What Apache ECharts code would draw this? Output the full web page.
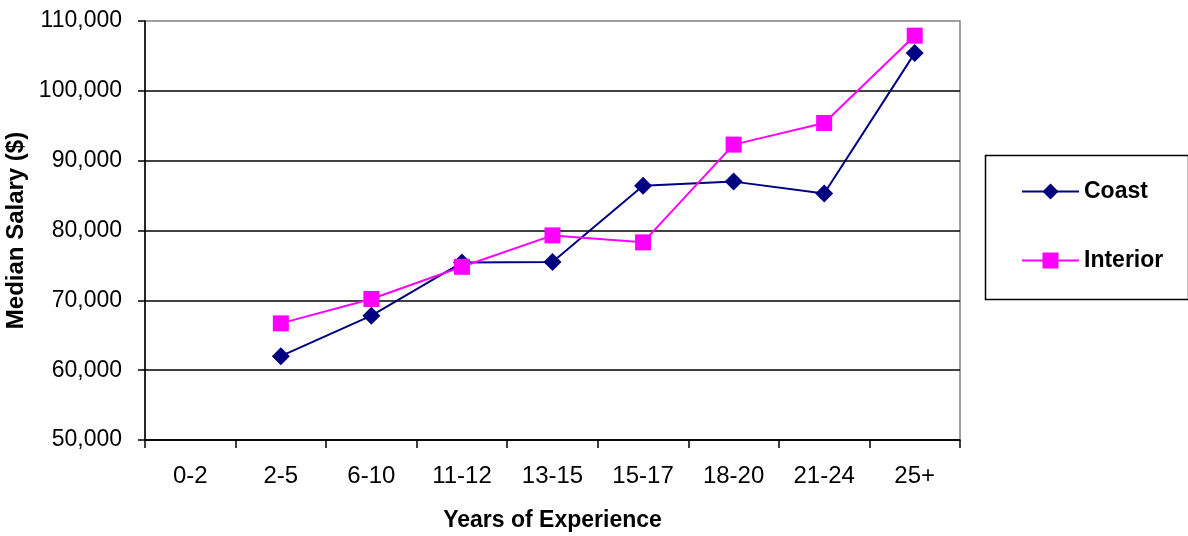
<!DOCTYPE html>
<html>
<head>
<meta charset="utf-8">
<title>Median Salary by Years of Experience</title>
<script src="https://cdn.jsdelivr.net/npm/echarts@6/dist/echarts.min.js"></script>
<style>
  html, body { margin: 0; padding: 0; background: #fff; }
  #chart { width: 1188px; height: 536px; }
</style>
</head>
<body>
<div id="chart"></div>
<script>
// Experience bands on the x axis
const categories = ['0-2', '2-5', '6-10', '11-12', '13-15', '15-17', '18-20', '21-24', '25+'];

// Median salary ($) per band; no data for 0-2
const coast    = [null, 62000, 67800, 75400, 75500, 86400, 87000, 85300, 105400];
const interior = [null, 66700, 70200, 74800, 79300, 78300, 92300, 95400, 107900];

// Y axis range and step
const yMin = 50000;
const yMax = 110000;
const yStep = 10000;

const sans = "'Liberation Sans', Arial, sans-serif";

const chart = echarts.init(document.getElementById('chart'), null, { renderer: 'canvas' });

chart.setOption({
  backgroundColor: '#ffffff',
  animation: false,
  grid: {
    left: 145, right: 228, top: 21, bottom: 96,
    outerBoundsMode: 'none',
    containLabel: false,
    show: true,
    borderColor: '#808080',
    borderWidth: 1.5,
    backgroundColor: 'transparent'
  },
  legend: {
    orient: 'vertical',
    left: 1016,
    top: 175,
    padding: 5,
    itemWidth: 57,
    itemHeight: 20,
    itemGap: 46,
    textStyle: { fontFamily: sans, fontSize: 23, fontWeight: 'bold', color: '#000' },
    data: ['Coast', 'Interior']
  },
  graphic: [{
    type: 'rect',
    left: 983, top: 153,
    shape: { width: 203, height: 144 },
    style: { fill: 'none', stroke: '#000', lineWidth: 1.5 },
    silent: true
  }],
  xAxis: {
    type: 'category',
    data: categories,
    boundaryGap: true,
    name: 'Years of Experience',
    nameLocation: 'middle',
    nameGap: 69,
    nameTextStyle: { fontFamily: sans, fontSize: 23, fontWeight: 'bold', color: '#000' },
    axisLine: { show: true, lineStyle: { color: '#000', width: 1.5 } },
    axisTick: { show: true, interval: 0, length: 8, inside: false, lineStyle: { color: '#000', width: 1.5 } },
    axisLabel: { interval: 0, margin: 24, fontFamily: sans, fontSize: 24, color: '#000' },
    splitLine: { show: false }
  },
  yAxis: {
    type: 'value',
    min: yMin,
    max: yMax,
    interval: yStep,
    name: 'Median Salary ($)',
    nameLocation: 'middle',
    nameRotate: 90,
    nameGap: 113,
    nameTextStyle: { fontFamily: sans, fontSize: 24, fontWeight: 'bold', color: '#000' },
    axisLine: { show: true, lineStyle: { color: '#000', width: 1.5 } },
    axisTick: { show: true, length: 7, lineStyle: { color: '#000', width: 1.5 } },
    axisLabel: {
      margin: 23,
      fontFamily: sans,
      fontSize: 23,
      color: '#000',
      formatter: v => v.toLocaleString('en-US')
    },
    splitLine: { show: true, showMaxLine: false, lineStyle: { color: '#000', width: 1.5 } }
  },
  series: [
    {
      name: 'Coast',
      type: 'line',
      data: coast,
      connectNulls: false,
      symbol: 'diamond',
      symbolSize: 18,
      itemStyle: { color: '#000080' },
      lineStyle: { color: '#000080', width: 2 },
      z: 2
    },
    {
      name: 'Interior',
      type: 'line',
      data: interior,
      connectNulls: false,
      symbol: 'rect',
      symbolSize: 16,
      itemStyle: { color: '#ff00ff' },
      lineStyle: { color: '#ff00ff', width: 2 },
      z: 3
    }
  ]
});
</script>
</body>
</html>
